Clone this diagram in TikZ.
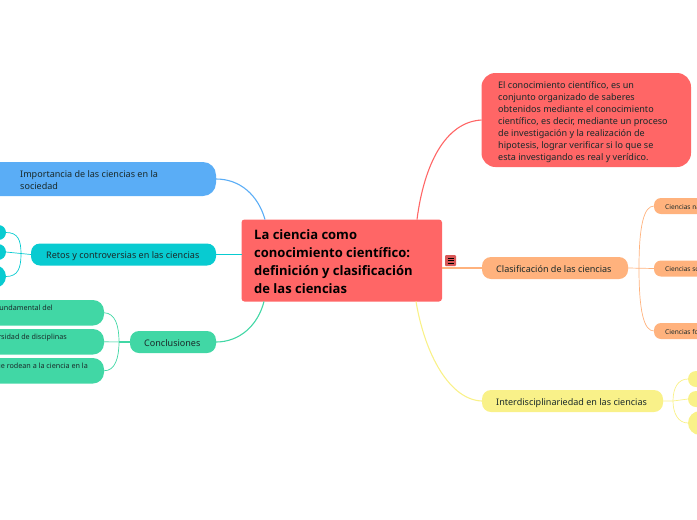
\documentclass[tikz,border=0pt]{standalone}
\usepackage{fontspec}
\setmainfont{Noto Sans}
\newfontfamily\rootfont{Open Sans}
\definecolor{cred}{HTML}{FF6666}
\definecolor{cblue}{HTML}{5AADF6}
\definecolor{ccyan}{HTML}{08CBD1}
\definecolor{cgreen}{HTML}{41D7A5}
\definecolor{corange}{HTML}{FFB27D}
\definecolor{cyellow}{HTML}{F9F189}
\definecolor{ctxt}{HTML}{1A2A2A}
\tikzset{
 pill/.style n args={4}{anchor=north west,inner sep=0pt,outer sep=0pt,fill=#1,rounded corners=#2,minimum width=#3,minimum height=#4},
 lbl/.style={anchor=north west,inner sep=0pt,text=ctxt,align=left},
 big/.style={lbl,font=\fontsize{9.05}{12}\selectfont},
 small/.style={lbl,font=\fontsize{7.2}{9}\selectfont},
 tiny/.style={lbl,font=\fontsize{6.6}{8}\selectfont},
 link/.style={line width=1.1pt},
 sublink/.style={line width=.7pt}
}
\begin{document}
\begin{tikzpicture}[x=1pt,y=-1pt]
\useasboundingbox (0,0) rectangle (697,520);
\clip (0,0) rectangle (697,520);
% nodes
\node[pill={cred}{3pt}{200.5pt}{82pt}] (root) at (241.5,219.5) {};
\node[pill={cblue}{13pt}{236pt}{34pt}] (n1) at (-20,162) {};
\node[pill={ccyan}{9pt}{185pt}{22pt}] (n2) at (31,243.5) {};
\node[pill={ccyan}{7.5pt}{26pt}{15pt}] (n2a) at (-20,225) {};
\node[pill={ccyan}{8pt}{26pt}{16pt}] (n2b) at (-20,244) {};
\node[pill={ccyan}{11.5pt}{26pt}{23pt}] (n2c) at (-20,265) {};
\node[pill={cgreen}{9pt}{86pt}{22pt}] (n3) at (130,331) {};
\node[pill={cgreen}{11pt}{134pt}{25.5pt}] (n3a) at (-30,300) {};
\node[pill={cgreen}{11pt}{134pt}{25.5pt}] (n3b) at (-30,329) {};
\node[pill={cgreen}{11pt}{134pt}{25.5pt}] (n3c) at (-30,358) {};
\node[pill={cred}{14pt}{209.5pt}{94pt}] (r1) at (481.5,73) {};
\node[pill={corange}{9pt}{146pt}{22pt}] (r2) at (482,257) {};
\node[pill={corange}{7pt}{66pt}{16pt}] (r2a) at (654,198) {};
\node[pill={corange}{7pt}{66pt}{16pt}] (r2b) at (654,260.5) {};
\node[pill={corange}{7pt}{66pt}{16pt}] (r2c) at (654,323) {};
\node[pill={cyellow}{9pt}{181pt}{22pt}] (r3) at (482,390) {};
\node[pill={cyellow}{8pt}{32pt}{16pt}] (r3a) at (688,371) {};
\node[pill={cyellow}{8pt}{32pt}{16pt}] (r3b) at (688,391) {};
\node[pill={cyellow}{12pt}{32pt}{24pt}] (r3c) at (688,411) {};
% connectors
\draw[link,cblue] (n1.east) .. controls (240,179) and (258,195) .. ([xshift=-177pt]root.north east);
\draw[link,ccyan,line width=1.4pt] (n2.east) -- (root.west |- n2.east);
\draw[link,cgreen] (n3.east) .. controls (240,342) and (258,325) .. ([xshift=22.5pt]root.south west);
\draw[link,cred] (r1.west) .. controls (445,122) and (424,165) .. ([xshift=-25pt]root.north east);
\draw[link,corange] (root.east |- r2.west) -- (r2.west);
\draw[link,cyellow] (r3.west) .. controls (450,400) and (425,355) .. ([xshift=-26pt]root.south east);
% cyan children
\draw[sublink,ccyan] (n2.west) -- (n2b.east);
\draw[sublink,ccyan] (n2a.east) .. controls (18,232.5) and (21,240) .. (21,254) .. controls (21,268) and (18,276.5) .. (n2c.east);
% green children
\draw[sublink,cgreen] (n3a.east) .. controls (115,313) and (119,325) .. (119,342) .. controls (119,358) and (115,371) .. (n3c.east);
\draw[link,cgreen!60!white] (n3b.east) -- (n3.west);
\draw[link,cgreen] (119,342) -- (n3.west);
% orange children
\draw[sublink,corange] (r2a.west) .. controls (644,206) and (639,225) .. (639,268) .. controls (639,312) and (644,331) .. (r2c.west);
\draw[sublink,corange] (r2.east) -- (r2b.west);
% yellow children
\draw[sublink,cyellow] (r3a.west) .. controls (678,379) and (673,388) .. (673,401) .. controls (673,413) and (678,423) .. (r3c.west);
\draw[sublink,cyellow] (r3.east) -- (673,401) -- (r3b.west);
% labels
\node[big] (t1) at (20,170.5) {Importancia de las ciencias en la\\sociedad};
\node[big] (t2) at (46,251) {Retos y controversias en las ciencias};
\node[big] (t3) at (144,339) {Conclusiones};
\node[small,anchor=north east] (g1) at (53,305) {fundamental del};
\node[small,anchor=north east] (g2) at (67,334) {diversidad de disciplinas};
\node[small,anchor=north east] (g3) at (88,363) {que rodean a la ciencia en la};
\node[lbl,text=black,font=\rootfont\bfseries\fontsize{13}{18}\selectfont] (root text) at (254,229) {La ciencia como\\conocimiento científico:\\definición y clasificación\\de las ciencias};
\node[inner sep=0pt,minimum size=11pt,fill=cred!85!black,rounded corners=1pt] (menu) at (450.5,260.5) {};
\draw[black,line width=.6pt] (447.5,258) -- (453.5,258) (447.5,260.5) -- (453.5,260.5) (447.5,263) -- (453.5,263);
\node[big] (t4) at (498,81) {El conocimiento científico, es un\\conjunto organizado de saberes\\obtenidos mediante el conocimiento\\científico, es decir, mediante un proceso\\de investigación y la realización de\\hipotesis, lograr verificar si lo que se\\esta investigando es real y verídico.};
\node[big] (t5) at (496,265) {Clasificación de las ciencias};
\node[tiny] (t6) at (665,204) {Ciencias naturales};
\node[tiny] (t7) at (665,266.5) {Ciencias sociales};
\node[tiny] (t8) at (665,329) {Ciencias formales};
\node[big] (t9) at (496,398) {Interdisciplinariedad en las ciencias};
\end{tikzpicture}
\end{document}
